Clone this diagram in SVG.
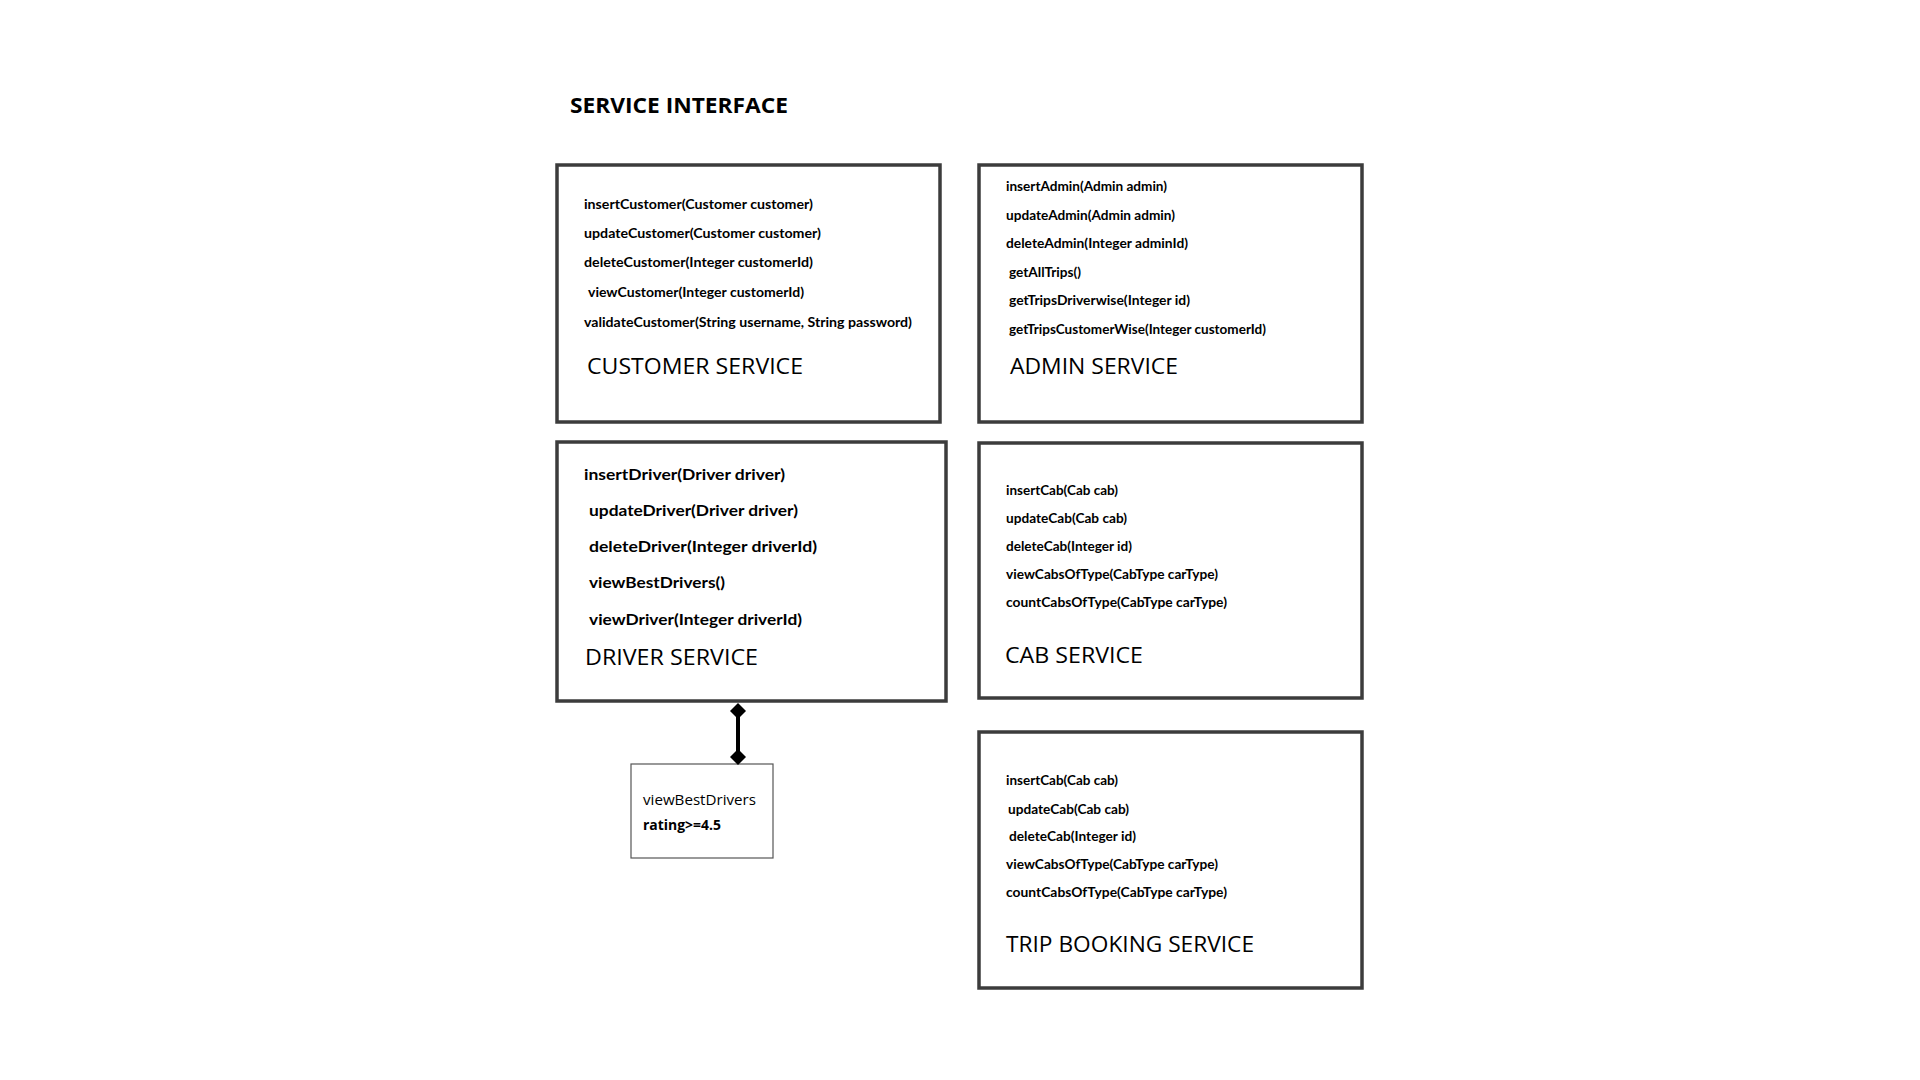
<svg xmlns="http://www.w3.org/2000/svg" width="1920" height="1080" viewBox="0 0 1920 1080">
<defs>
<style>
.box{fill:#fff;stroke:#3c3c3c;stroke-width:3.5}
.note{fill:#fff;stroke:#555;stroke-width:1.2}
.m{font-family:Lato,"Open Sans",sans-serif;font-weight:bold;font-size:13.2px;fill:#000}
.md{font-family:Lato,"Open Sans",sans-serif;font-weight:bold;font-size:16px;fill:#000}
.h{font-family:"Open Sans","Noto Sans",sans-serif;font-size:21px;fill:#000}
.t{font-family:"Open Sans","Noto Sans",sans-serif;font-weight:bold;font-size:21px;fill:#000}
.n{font-family:"Open Sans","Noto Sans",sans-serif;font-size:15px;fill:#000}
.nb{font-family:"Open Sans","Noto Sans",sans-serif;font-weight:bold;font-size:15px;fill:#000}
.link{stroke:#000;stroke-width:4;fill:none}
</style>
<marker id="dia" viewBox="0 0 16 16" refX="8" refY="8" markerWidth="16" markerHeight="16" markerUnits="userSpaceOnUse" orient="auto">
<path d="M0 8 L8 0 L16 8 L8 16 Z" fill="#000"/>
</marker>
</defs>
<rect width="1920" height="1080" fill="#fff"/>
<text class="t" x="570" y="113" textLength="218" lengthAdjust="spacingAndGlyphs">SERVICE INTERFACE</text>

<g id="customer-service">
<rect class="box" x="557" y="165" width="383" height="257"/>
<text class="m" x="584" y="209" textLength="229" lengthAdjust="spacingAndGlyphs">insertCustomer(Customer customer)</text>
<text class="m" x="584" y="238" textLength="237" lengthAdjust="spacingAndGlyphs">updateCustomer(Customer customer)</text>
<text class="m" x="584" y="267" textLength="229" lengthAdjust="spacingAndGlyphs">deleteCustomer(Integer customerId)</text>
<text class="m" x="588" y="297" textLength="216" lengthAdjust="spacingAndGlyphs">viewCustomer(Integer customerId)</text>
<text class="m" x="584" y="327" textLength="328" lengthAdjust="spacingAndGlyphs">validateCustomer(String username, String password)</text>
<text class="h" x="587" y="374" textLength="216" lengthAdjust="spacingAndGlyphs">CUSTOMER SERVICE</text>
</g>

<g id="admin-service">
<rect class="box" x="979" y="165" width="383" height="257"/>
<text class="m" x="1006" y="191" textLength="161" lengthAdjust="spacingAndGlyphs">insertAdmin(Admin admin)</text>
<text class="m" x="1006" y="220" textLength="169" lengthAdjust="spacingAndGlyphs">updateAdmin(Admin admin)</text>
<text class="m" x="1006" y="248" textLength="182" lengthAdjust="spacingAndGlyphs">deleteAdmin(Integer adminId)</text>
<text class="m" x="1009" y="277" textLength="72" lengthAdjust="spacingAndGlyphs">getAllTrips()</text>
<text class="m" x="1009" y="305" textLength="181" lengthAdjust="spacingAndGlyphs">getTripsDriverwise(Integer id)</text>
<text class="m" x="1009" y="334" textLength="257" lengthAdjust="spacingAndGlyphs">getTripsCustomerWise(Integer customerId)</text>
<text class="h" x="1010" y="374" textLength="168" lengthAdjust="spacingAndGlyphs">ADMIN SERVICE</text>
</g>

<g id="driver-service">
<rect class="box" x="557" y="442" width="389" height="259"/>
<text class="md" x="584" y="480" textLength="201" lengthAdjust="spacingAndGlyphs">insertDriver(Driver driver)</text>
<text class="md" x="589" y="516" textLength="209" lengthAdjust="spacingAndGlyphs">updateDriver(Driver driver)</text>
<text class="md" x="589" y="552" textLength="228" lengthAdjust="spacingAndGlyphs">deleteDriver(Integer driverId)</text>
<text class="md" x="589" y="588" textLength="136" lengthAdjust="spacingAndGlyphs">viewBestDrivers()</text>
<text class="md" x="589" y="625" textLength="213" lengthAdjust="spacingAndGlyphs">viewDriver(Integer driverId)</text>
<text class="h" x="585" y="665" textLength="173" lengthAdjust="spacingAndGlyphs">DRIVER SERVICE</text>
</g>

<g id="cab-service">
<rect class="box" x="979" y="443" width="383" height="255"/>
<text class="m" x="1006" y="495" textLength="112" lengthAdjust="spacingAndGlyphs">insertCab(Cab cab)</text>
<text class="m" x="1006" y="523" textLength="121" lengthAdjust="spacingAndGlyphs">updateCab(Cab cab)</text>
<text class="m" x="1006" y="551" textLength="126" lengthAdjust="spacingAndGlyphs">deleteCab(Integer id)</text>
<text class="m" x="1006" y="579" textLength="212" lengthAdjust="spacingAndGlyphs">viewCabsOfType(CabType carType)</text>
<text class="m" x="1006" y="607" textLength="221" lengthAdjust="spacingAndGlyphs">countCabsOfType(CabType carType)</text>
<text class="h" x="1005" y="663" textLength="138" lengthAdjust="spacingAndGlyphs">CAB SERVICE</text>
</g>

<g id="trip-booking-service">
<rect class="box" x="979" y="732" width="383" height="256"/>
<text class="m" x="1006" y="785" textLength="112" lengthAdjust="spacingAndGlyphs">insertCab(Cab cab)</text>
<text class="m" x="1008" y="814" textLength="121" lengthAdjust="spacingAndGlyphs">updateCab(Cab cab)</text>
<text class="m" x="1009" y="841" textLength="127" lengthAdjust="spacingAndGlyphs">deleteCab(Integer id)</text>
<text class="m" x="1006" y="869" textLength="212" lengthAdjust="spacingAndGlyphs">viewCabsOfType(CabType carType)</text>
<text class="m" x="1006" y="897" textLength="221" lengthAdjust="spacingAndGlyphs">countCabsOfType(CabType carType)</text>
<text class="h" x="1006" y="952" textLength="248" lengthAdjust="spacingAndGlyphs">TRIP BOOKING SERVICE</text>
</g>

<g id="best-drivers-note">
<rect class="note" x="631" y="764" width="142" height="94"/>
<text class="n" x="643" y="805" textLength="113" lengthAdjust="spacingAndGlyphs">viewBestDrivers</text>
<text class="nb" x="643" y="830" textLength="78" lengthAdjust="spacingAndGlyphs">rating&gt;=4.5</text>
</g>

<g id="connectors">
<line class="link" x1="738" y1="711" x2="738" y2="757" marker-start="url(#dia)" marker-end="url(#dia)"/>
</g>
</svg>
